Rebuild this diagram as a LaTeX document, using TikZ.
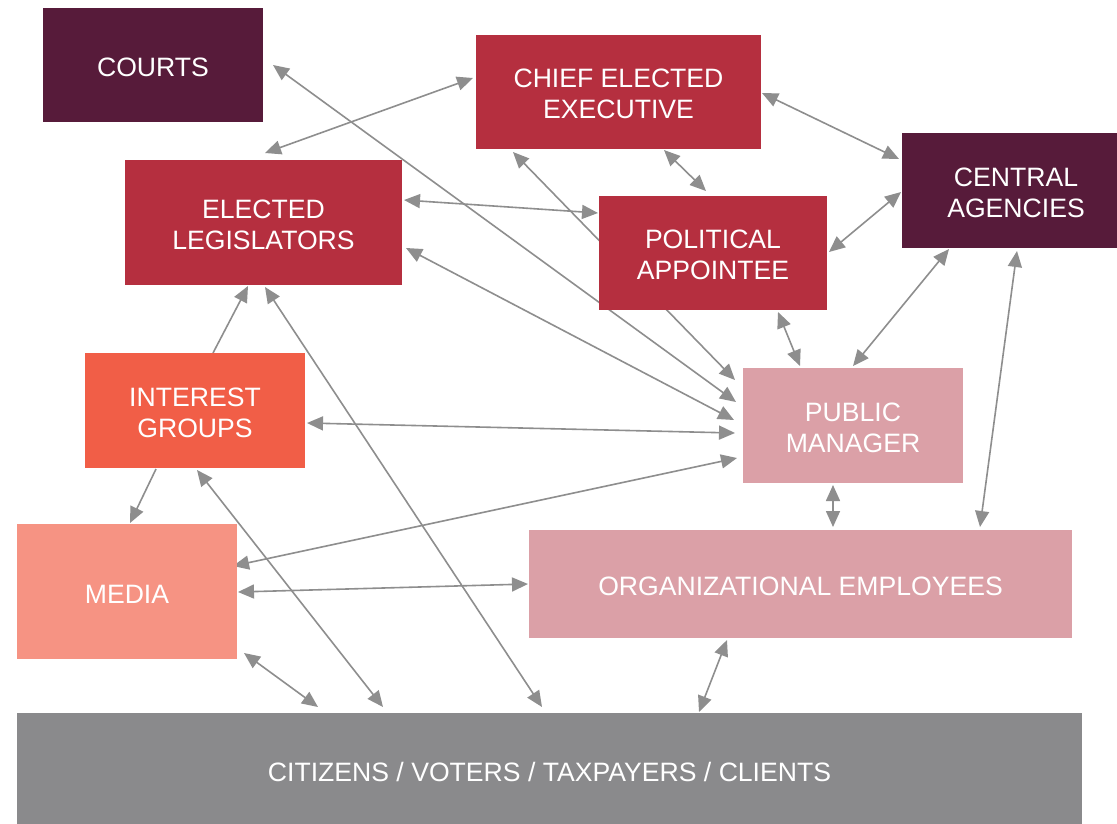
\documentclass[tikz,border=0pt]{standalone}
\usepackage{fontspec}
\setmainfont{Liberation Sans}
\usetikzlibrary{arrows.meta,calc}
\pgfdeclarelayer{bg}
\pgfdeclarelayer{lines}
\pgfsetlayers{bg,lines,main}
\definecolor{darkplum}{RGB}{87,27,58}
\definecolor{crimson}{RGB}{181,47,63}
\definecolor{coral}{RGB}{241,94,71}
\definecolor{salmon}{RGB}{246,147,131}
\definecolor{rosepink}{RGB}{219,160,167}
\definecolor{greybar}{RGB}{138,138,140}
\definecolor{linegrey}{RGB}{142,142,142}
\tikzset{
  box/.style={rectangle, inner sep=0pt, outer sep=0pt, text=white, align=center,
    font=\fontsize{26.6}{31}\selectfont, execute at begin node={\rule{0pt}{24pt}}},
  twobox/.style={box, execute at begin node={\rule{0pt}{54pt}}},
  link/.style={draw=linegrey, line width=1.6pt, {Triangle[length=16pt,width=14pt]}-{Triangle[length=16pt,width=14pt]}},
  onelink/.style={draw=linegrey, line width=1.6pt, -{Triangle[length=16pt,width=14pt]}}
}
\begin{document}
\begin{tikzpicture}[x=1pt,y=-1pt]
\useasboundingbox (0,0) rectangle (1117,823);
\begin{pgfonlayer}{bg}
\fill[white] (0,0) rectangle (1117,823);
\end{pgfonlayer}

\node[box, fill=darkplum, minimum width=220pt, minimum height=114pt] (courts) at (153,65) {COURTS};
\node[twobox, fill=crimson, minimum width=285pt, minimum height=114pt] (ce) at (618.5,92) {CHIEF ELECTED\\EXECUTIVE};
\node[twobox, fill=crimson, minimum width=277pt, minimum height=125pt] (leg) at (263.5,222.5) {ELECTED\\LEGISLATORS};
\node[twobox, fill=crimson, minimum width=228pt, minimum height=114pt] (pa) at (713,253) {POLITICAL\\APPOINTEE};
\node[twobox, fill=darkplum, minimum width=228pt, minimum height=115pt] (ca) at (1016,190.5) {CENTRAL\\AGENCIES};
\node[twobox, fill=coral, minimum width=220pt, minimum height=115pt] (ig) at (195,410.5) {INTEREST\\GROUPS};
\node[twobox, fill=rosepink, minimum width=220pt, minimum height=115pt] (pm) at (853,425.5) {PUBLIC\\MANAGER};
\node[box, fill=salmon, minimum width=220pt, minimum height=135pt] (media) at (127,591.5) {MEDIA};
\node[box, fill=rosepink, minimum width=543pt, minimum height=108pt] (oe) at (800.5,584) {ORGANIZATIONAL EMPLOYEES};
\node[box, fill=greybar, minimum width=1065pt, minimum height=113pt] (cit) at (549.5,769.5) {CITIZENS / VOTERS / TAXPAYERS / CLIENTS};

\begin{pgfonlayer}{lines}
\draw[link] ($(courts.north west)+(230,57)$) -- ($(pm.north west)+(-7,34)$);
\draw[link] ($(leg.north west)+(140,-7)$) -- ($(ce.north west)+(-3,43)$);
\draw[link] ($(ce.north west)+(286,58)$) -- ($(ca.north west)+(-3,26)$);
\draw[link] ($(ce.north west)+(188,115)$) -- ($(pa.north west)+(107,-5)$);
\draw[link] ($(leg.north west)+(279,40)$) -- ($(pa.north west)+(-1,17)$);
\draw[link] ($(pa.north west)+(230,56)$) -- ($(ca.north west)+(-1,59)$);
\draw[link] ($(leg.north west)+(281,88)$) -- ($(pm.north west)+(-9,52)$);
\draw[link] ($(ce.north west)+(37,117)$) -- ($(pm.north west)+(-8,12)$);
\draw[link] ($(pa.north west)+(179,116)$) -- ($(pm.north west)+(57,-2)$);
\draw[link] ($(ca.north west)+(47,116)$) -- ($(pm.north west)+(110,-2)$);
\draw[link] ($(ca.north west)+(115,118)$) -- ($(oe.north west)+(451,-3)$);
\draw[onelink] ($(ig.north west)+(128,0)$) -- ($(leg.north west)+(123,126)$);
\draw[link] ($(ig.north west)+(222,70)$) -- ($(pm.north west)+(-8,65)$);
\draw[onelink] ($(ig.north west)+(71,116)$) -- ($(media.north west)+(113,-1)$);
\draw[link] ($(leg.north west)+(140,127)$) -- ($(cit.north west)+(525,-6)$);
\draw[link] ($(ig.north west)+(112,117)$) -- ($(cit.north west)+(366,-6)$);
\draw[link] ($(pm.north west)+(-6,90)$) -- ($(media.north west)+(216,42)$);
\draw[link] ($(media.north west)+(221,68)$) -- ($(oe.north west)+(-1,54)$);
\draw[link] ($(pm.north west)+(90,117)$) -- ($(oe.north west)+(304,-3)$);
\draw[link] ($(media.north west)+(227,129)$) -- ($(cit.north west)+(301,-6)$);
\draw[link] ($(oe.north west)+(198,110)$) -- ($(cit.north west)+(682,-1)$);
\end{pgfonlayer}
\end{tikzpicture}
\end{document}
